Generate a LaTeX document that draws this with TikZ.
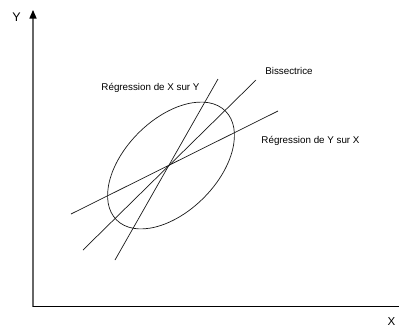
\documentclass[tikz,border=0pt]{standalone}
\usepackage{fontspec}
\setmainfont{Liberation Sans}
\usetikzlibrary{arrows.meta}
\tikzset{
  lbl/.style={inner sep=0pt, font=\fontsize{9.8}{11}\selectfont},
  axlbl/.style={inner sep=0pt, font=\fontsize{12.5}{14}\selectfont},
  ln/.style={line width=0.7pt, black!90}
}
\begin{document}
\begin{tikzpicture}[x=1pt,y=-1pt]
\useasboundingbox (0,0) rectangle (399,327);
% axes
\coordinate (O) at (33,306.5);
\coordinate (Ytop) at (33,10);
\coordinate (Xend) at (399,306.5);
\draw[line width=1.1pt, black!60] (O) -- (33,18);
\fill[black] (Ytop) -- (29.3,18.5) -- (36.7,18.5) -- cycle;
\draw[line width=0.9pt, black] (32.5,306.5) -- (Xend);
\node[axlbl] (ylab) at (16.5,17.5) {Y};
\node[axlbl, font=\fontsize{11.5}{13}\selectfont] (xlab) at (391.5,321.5) {X};
% ellipse
\coordinate (C) at (171,165.5);
\draw[ln, rotate around={45:(C)}] (C) ellipse [x radius=77, y radius=46];
% lines
\coordinate (a1) at (71,214);  \coordinate (a2) at (278,111);
\coordinate (b1) at (83,250);  \coordinate (b2) at (256,80);
\coordinate (c1) at (115,260); \coordinate (c2) at (218,79);
\draw[ln] (a1) -- (a2);
\draw[ln] (b1) -- (b2);
\draw[ln] (c1) -- (c2);
% labels
\node[lbl] (lxy) at (150.5,88) {Régression de X sur Y};
\node[lbl] (lbis) at (289,71) {Bissectrice};
\node[lbl] (lyx) at (310.5,141) {Régression de Y sur X};
\end{tikzpicture}
\end{document}
